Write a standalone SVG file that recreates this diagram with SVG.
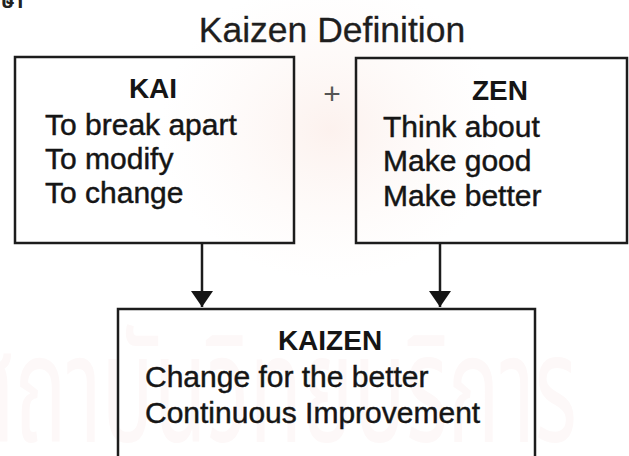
<svg xmlns="http://www.w3.org/2000/svg" width="629" height="456" viewBox="0 0 629 456">
  <style>
    .box { fill: none; stroke: #1c1c1c; stroke-width: 2.5; }
    .conn { stroke: #1c1c1c; stroke-width: 2.5; fill: none; }
    .title { font-family: "Liberation Sans", Arial, sans-serif; font-size: 35.5px; fill: #1e1e1e; stroke: #1e1e1e; stroke-width: 0.3; }
    .head { font-family: "Liberation Sans", Arial, sans-serif; font-size: 28px; font-weight: bold; fill: #151515; }
    .item { font-family: "Liberation Sans", Arial, sans-serif; font-size: 30px; fill: #151515; stroke: #151515; stroke-width: 0.45; }
    .plus { font-family: "Liberation Sans", Arial, sans-serif; font-size: 30px; fill: #555; }
    .wm { font-family: "Noto Sans Thai", "DejaVu Sans", sans-serif; fill: #fdf8f8; }
  </style>
  <defs>
    <marker id="arrow" viewBox="0 0 16 22" refX="16" refY="11" markerWidth="16" markerHeight="22" markerUnits="userSpaceOnUse" orient="auto">
      <path d="M0,0 L16,11 L0,22 Z" fill="#151515"/>
    </marker>
    <radialGradient id="crest" cx="0.5" cy="0.5" r="0.5">
      <stop offset="0" stop-color="#fcf0ec" stop-opacity="0.9"/>
      <stop offset="1" stop-color="#fdf7f5" stop-opacity="0"/>
    </radialGradient>
  </defs>

  <rect width="629" height="456" fill="#ffffff"/>

  <!-- faint background emblem and stamp text -->
  <g id="watermark">
    <ellipse cx="330" cy="130" rx="170" ry="150" fill="url(#crest)"/>
    <text class="wm" x="-35" y="442" font-size="150" textLength="612" lengthAdjust="spacingAndGlyphs">สถาบันวิทยบริการ</text>
    <text x="1" y="8" font-family="'Noto Sans Thai', 'DejaVu Sans', sans-serif" font-size="20" font-weight="bold" fill="#222">ษา</text>
  </g>

  <text class="title" x="332" y="42" text-anchor="middle">Kaizen Definition</text>

  <g id="kai">
    <rect class="box" x="15" y="57" width="279" height="186"/>
    <text class="head" x="153" y="98" text-anchor="middle">KAI</text>
    <text class="item" x="45" y="135">To break apart</text>
    <text class="item" x="45" y="169">To modify</text>
    <text class="item" x="45" y="203">To change</text>
  </g>

  <g id="plus">
    <text class="plus" x="332" y="104" text-anchor="middle">+</text>
  </g>

  <g id="zen">
    <rect class="box" x="356" y="58" width="271" height="185"/>
    <text class="head" x="500" y="100" text-anchor="middle">ZEN</text>
    <text class="item" x="383" y="137">Think about</text>
    <text class="item" x="383" y="171">Make good</text>
    <text class="item" x="383" y="206">Make better</text>
  </g>

  <g id="kaizen">
    <rect class="box" x="118" y="309" width="417" height="160"/>
    <text class="head" x="330" y="350" text-anchor="middle">KAIZEN</text>
    <text class="item" x="145" y="387">Change for the better</text>
    <text class="item" x="145" y="423">Continuous Improvement</text>
  </g>

  <g id="connectors">
    <line class="conn" x1="202" y1="243" x2="202" y2="307" marker-end="url(#arrow)"/>
    <line class="conn" x1="440" y1="243" x2="440" y2="307" marker-end="url(#arrow)"/>
  </g>
</svg>
